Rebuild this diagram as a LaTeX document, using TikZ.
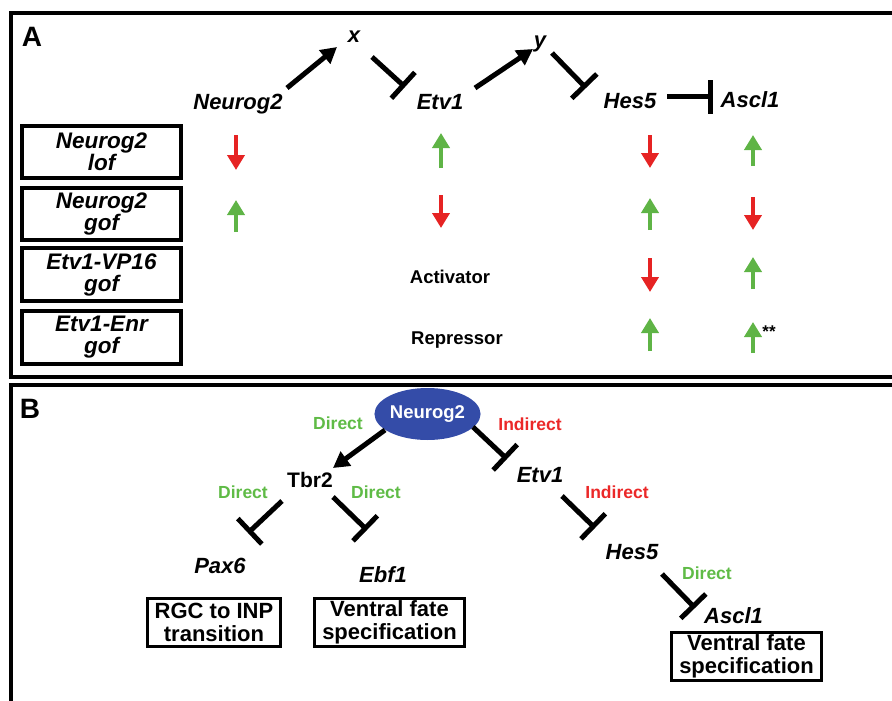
\documentclass[tikz,border=0pt]{standalone}
\usepackage{fontspec}
\setmainfont{Liberation Sans}
\usetikzlibrary{arrows.meta,shapes.geometric}
\definecolor{tgreen}{RGB}{95,187,70}
\definecolor{tred}{RGB}{235,40,40}
\definecolor{agreen}{RGB}{95,180,70}
\definecolor{ared}{RGB}{230,35,35}
\definecolor{nblue}{RGB}{52,76,168}
\begin{document}
\begin{tikzpicture}[x=1pt,y=-1pt,
  gene/.style={font=\fontsize{22}{24}\selectfont\bfseries\itshape, inner sep=0pt, anchor=base},
  plain/.style={font=\fontsize{21}{23}\selectfont\bfseries, inner sep=0pt, anchor=base},
  panel/.style={font=\fontsize{28}{30}\selectfont\bfseries, inner sep=0pt, anchor=base},
  note/.style={font=\fontsize{17.5}{19}\selectfont\bfseries, inner sep=0pt},
  gnote/.style={note, text=tgreen},
  rnote/.style={note, text=tred},
  act/.style={line width=5pt, -{Triangle[length=16pt,width=17pt]}},
  inh/.style={line width=5pt, -{Bar[width=35pt]}},
  tarrow/.style={line width=4pt, -{Triangle[length=15pt,width=17pt]}},
  tbox/.style={draw, line width=4pt, minimum width=159pt, minimum height=52pt, inner sep=0pt,
    align=center, font=\fontsize{22.5}{22}\selectfont\bfseries\itshape},
  fbox/.style={draw, line width=3pt, minimum height=48pt, inner sep=0pt,
    align=center, font=\fontsize{22}{23}\selectfont\bfseries},
  frame/.style={line width=3.5pt}
]
\useasboundingbox (0,0) rectangle (892,701);
\clip (0,0) rectangle (892,701);

% ---------------- Panel frames ----------------
\draw[frame] (900,13) -- (11,13) -- (11,377) -- (900,377);
\draw[frame] (900,385) -- (11,385) -- (11,710);

% ---------------- Panel A ----------------
\node[panel] (labA) at (32,47) {A};

\node[gene] (nA) at (238,110) {Neurog2};
\node[gene] (xA) at (354,43) {x};
\node[gene] (eA) at (440,110) {Etv1};
\node[gene] (yA) at (540,48) {y};
\node[gene] (hA) at (630,108) {Hes5};
\node[gene] (aA) at (750,107) {Ascl1};

\coordinate (a1s) at (287,88);  \coordinate (a1e) at (337,47);
\coordinate (i1s) at (372,57);  \coordinate (i1e) at (405,87);
\coordinate (a2s) at (475,88);  \coordinate (a2e) at (533,49);
\coordinate (i2s) at (552,53);  \coordinate (i2e) at (586,88);
\coordinate (i3s) at (667,97);  \coordinate (i3e) at (713,97);
\draw[act] (a1s) -- (a1e);
\draw[inh] (i1s) -- (i1e);
\draw[act] (a2s) -- (a2e);
\draw[inh] (i2s) -- (i2e);
\draw[inh, -{Bar[width=33pt]}] (i3s) -- (i3e);

% table boxes
\node[tbox] (r1) at (101.5,152) {Neurog2\\lof};
\node[tbox] (r2) at (101.5,214) {Neurog2\\gof};
\node[tbox, minimum height=53pt] (r3) at (101.5,274.5) {Etv1-VP16\\gof};
\node[tbox, minimum height=53pt] (r4) at (101.5,337.5) {Etv1-Enr\\gof};

\node[font=\fontsize{18.5}{20}\selectfont\bfseries, inner sep=0pt] (actv) at (450,277) {Activator};
\node[font=\fontsize{18.5}{20}\selectfont\bfseries, inner sep=0pt] (repr) at (457,340) {Repressor};

\foreach \n/\x/\ya/\yb/\c in {
  1/236/135/170/ared, 2/441/168/133/agreen, 3/650/135/168/ared, 4/753/166/135/agreen,
  5/236/232/200/agreen, 6/441/195/228/ared, 7/650/230/198/agreen, 8/753/197/230/ared,
  9/650/258/292/ared, 10/753/289/257/agreen,
  11/650/351/318/agreen, 12/753/353/322/agreen} {
  \coordinate (ts\n) at (\x,\ya);
  \coordinate (te\n) at (\x,\yb);
  \draw[tarrow, color=\c] (ts\n) -- (te\n);
}
\node[font=\fontsize{17}{18}\selectfont\bfseries, inner sep=0pt, anchor=base] (stars) at (769,337) {**};

% ---------------- Panel B ----------------
\node[panel] (labB) at (30,418) {B};

\node[ellipse, fill=nblue, minimum width=89pt, minimum height=52pt, inner sep=0pt,
      text=white, font=\fontsize{18.5}{20}\selectfont\bfseries] (nB) at (427.5,414) {Neurog2};

\node[plain] (tbr) at (310,487) {Tbr2};
\node[gene] (pax) at (220,573) {Pax6};
\node[gene] (ebf) at (383,582) {Ebf1};
\node[gene] (eB) at (540,482) {Etv1};
\node[gene] (hB) at (632,559) {Hes5};
\node[gene] (aB) at (733.5,623) {Ascl1};

\node[gnote] (d1) at (338,423) {Direct};
\node[gnote] (d2) at (243,492) {Direct};
\node[gnote] (d3) at (376,492) {Direct};
\node[rnote] (ind1) at (530,424.5) {Indirect};
\node[rnote] (ind2) at (617,492.5) {Indirect};
\node[gnote] (d4) at (707,573.5) {Direct};

\coordinate (b1s) at (385,430);  \coordinate (b1e) at (333,468);
\coordinate (b2s) at (282,501);  \coordinate (b2e) at (248,533);
\coordinate (b3s) at (333,497);  \coordinate (b3e) at (367,530);
\coordinate (b4s) at (473,427);  \coordinate (b4e) at (507,459);
\coordinate (b5s) at (562,496);  \coordinate (b5e) at (595,528);
\coordinate (b6s) at (662,574);  \coordinate (b6e) at (695,608);
\draw[act] (b1s) -- (b1e);
\draw[inh] (b2s) -- (b2e);
\draw[inh] (b3s) -- (b3e);
\draw[inh] (b4s) -- (b4e);
\draw[inh] (b5s) -- (b5e);
\draw[inh] (b6s) -- (b6e);

\node[fbox, minimum width=133pt] (f1) at (214,622.5) {RGC to INP\\transition};
\node[fbox, minimum width=150pt] (f2) at (389.5,622.5) {Ventral fate\\specification};
\node[fbox, minimum width=150pt] (f3) at (746.5,656.5) {Ventral fate\\specification};
\end{tikzpicture}
\end{document}
